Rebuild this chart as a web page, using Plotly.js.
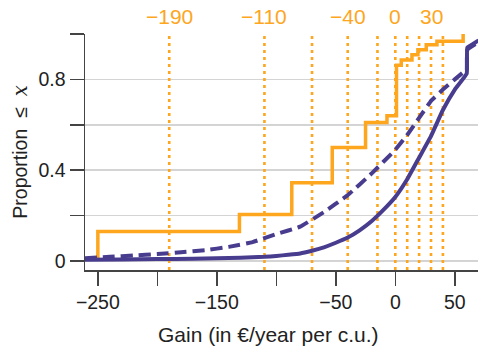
<!DOCTYPE html>
<html>
<head>
<meta charset="utf-8">
<script src="https://cdn.plot.ly/plotly-3.0.1.min.js"></script>
<style>html,body{margin:0;padding:0;background:#fff;}#chart{width:478px;height:351px;}</style>
</head>
<body>
<div id="chart"></div>
<script>
// Empirical step CDF (orange)
const stepX = [-250, -250, -131, -87, -53, -25, -7, 1, 5, 14, 19, 26, 35, 57];
const stepY = [0, 0.13, 0.205, 0.345, 0.50, 0.61, 0.64, 0.862, 0.885, 0.909, 0.931, 0.953, 0.968, 1.0];

// Smooth CDF, dashed (purple)
const dashX = [-261, -240, -220, -200, -180, -160, -140, -120, -100, -80, -60, -40, -20, 0, 10, 20, 30, 40, 50, 58, 60, 60.5, 70];
const dashY = [0.012, 0.018, 0.024, 0.03, 0.038, 0.047, 0.062, 0.083, 0.118, 0.151, 0.215, 0.29, 0.385, 0.49, 0.555, 0.63, 0.705, 0.755, 0.80, 0.835, 0.84, 0.93, 0.965];

// Smooth CDF, solid (purple)
const solidX = [-261, -230, -200, -170, -150, -130, -110, -100, -90, -80, -70, -60, -50, -40, -30, -20, -10, 0, 10, 20, 30, 40, 50, 60, 60.5, 65, 70];
const solidY = [0.005, 0.006, 0.008, 0.010, 0.012, 0.014, 0.018, 0.022, 0.027, 0.033, 0.045, 0.060, 0.080, 0.103, 0.135, 0.175, 0.225, 0.282, 0.36, 0.455, 0.55, 0.665, 0.755, 0.825, 0.94, 0.955, 0.972];

// Vertical reference lines and top labels
const refLines = [-190, -110, -70, -40, -15, 0, 10, 20, 30, 40];
const topLabels = [-190, -110, -40, 0, 30];

// Axis ticks
const xTickVals = [-250, -200, -150, -100, -50, 0, 50];
const xTickText = ['\u2212250', '', '\u2212150', '', '\u221250', '0', '50'];
const yTickVals = [0, 0.2, 0.4, 0.6, 0.8, 1.0];
const yTickText = ['0', '', '0.4', '', '0.8', ''];

const ORANGE = '#FDA61E';
const PURPLE = '#483C8E';
const yLo = -0.04, yHi = 1.0;
const FONT = 'Liberation Sans, Arial, sans-serif';

const fmt = v => (v < 0 ? '\u2212' + Math.abs(v) : String(v));

// Build dotted reference lines trace
const rx = [], ry = [];
refLines.forEach(v => { rx.push(v, v, null); ry.push(yLo, yHi, null); });

const traces = [
  {x: rx, y: ry, mode: 'lines', line: {color: ORANGE, width: 2.6, dash: '3px,4px'}, hoverinfo: 'skip', showlegend: false},
  {x: stepX, y: stepY, mode: 'lines', line: {color: ORANGE, width: 3.5, shape: 'hv'}, showlegend: false},
  {x: dashX, y: dashY, mode: 'lines', line: {color: PURPLE, width: 4, dash: '12px,6px', shape: 'spline', smoothing: 0.3}, showlegend: false},
  {x: solidX, y: solidY, mode: 'lines', line: {color: PURPLE, width: 4, shape: 'spline', smoothing: 0.3}, showlegend: false}
];

const annotations = topLabels.map(v => ({
  x: v, xref: 'x', y: 1, yref: 'paper', yanchor: 'bottom', yshift: 4,
  text: fmt(v), showarrow: false, font: {family: FONT, size: 21, color: ORANGE}
}));
annotations.push({
  x: 0.466, xref: 'paper', y: 0, yref: 'paper', yanchor: 'top', yshift: -51,
  text: 'Gain (in \u20AC/year per c.u.)', showarrow: false,
  font: {family: FONT, size: 21, color: '#222'}
});

const layout = {
  width: 478, height: 351,
  margin: {l: 85, r: 0, t: 34, b: 81},
  paper_bgcolor: '#fff', plot_bgcolor: '#fff',
  font: {family: FONT, size: 19, color: '#222'},
  showlegend: false,
  xaxis: {
    range: [-260.8, 69.5], showgrid: false, zeroline: false,
    showline: true, linecolor: '#444', linewidth: 1.5,
    ticks: 'outside', ticklen: 14, tickwidth: 1.5, tickcolor: '#444',
    tickvals: xTickVals, ticktext: xTickText,
    tickfont: {size: 19.5, color: '#222'}
  },
  yaxis: {
    range: [yLo, yHi], showgrid: true, gridcolor: '#d4d4d4', gridwidth: 1.5, zeroline: false,
    showline: true, linecolor: '#444', linewidth: 1.5,
    ticks: 'outside', ticklen: 14, tickwidth: 1.5, tickcolor: '#444',
    tickvals: yTickVals, ticktext: yTickText,
    tickfont: {size: 19.5, color: '#222'},
    title: {text: 'Proportion\u00A0\u00A0\u2264\u00A0\u00A0<span style="font-family:DejaVu Serif"><i>x</i></span>', font: {size: 19.5, color: '#222'}, standoff: 5}
  },
  annotations: annotations
};

Plotly.newPlot('chart', traces, layout, {staticPlot: true, displayModeBar: false});
</script>
</body>
</html>
